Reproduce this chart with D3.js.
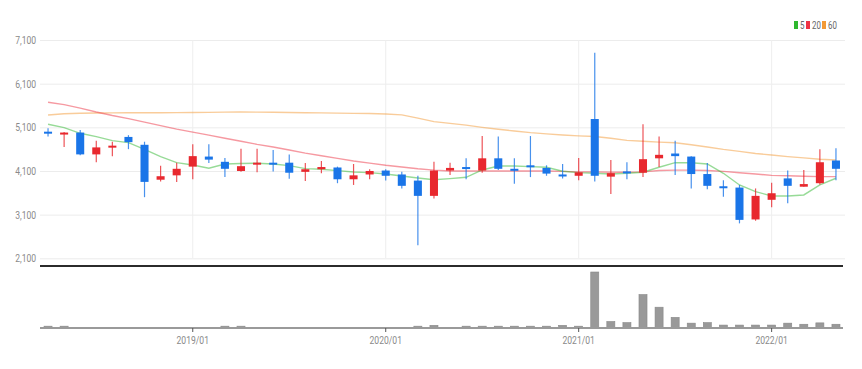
<!DOCTYPE html>
<html>
<head>
<meta charset="utf-8">
<script src="https://d3js.org/d3.v7.min.js"></script>
<style>
  body { margin: 0; background: #fff; }
  text { font-family: "Roboto", "Liberation Sans", sans-serif; }
</style>
</head>
<body>
<div id="chart"></div>
<script>
// Monthly candles, 2018/04 .. 2022/05
var months = ["2018/04","2018/05","2018/06","2018/07","2018/08","2018/09","2018/10","2018/11","2018/12",
  "2019/01","2019/02","2019/03","2019/04","2019/05","2019/06","2019/07","2019/08","2019/09","2019/10","2019/11","2019/12",
  "2020/01","2020/02","2020/03","2020/04","2020/05","2020/06","2020/07","2020/08","2020/09","2020/10","2020/11","2020/12",
  "2021/01","2021/02","2021/03","2021/04","2021/05","2021/06","2021/07","2021/08","2021/09","2021/10","2021/11","2021/12",
  "2022/01","2022/02","2022/03","2022/04","2022/05"];

var opens  = [5000,4950,4980,4480,4645,4880,4700,3900,4000,4200,4430,4310,4100,4250,4290,4290,4080,4140,4180,3910,4020,
  4110,4020,3880,3530,4110,4190,4110,4390,4150,4230,4170,4020,3990,5290,3970,4090,4060,4390,4500,4430,4030,3750,3720,2990,
  3440,3930,3740,3820,4340];
var closes = [4970,4980,4480,4640,4680,4760,3850,3980,4150,4440,4360,4150,4210,4290,4260,4060,4140,4190,3910,4000,4100,
  3990,3760,3530,4110,4170,4150,4390,4150,4120,4200,4040,3990,4070,3990,4050,4050,4370,4470,4440,4030,3760,3730,2980,3530,
  3590,3760,3800,4300,4150];
var highs  = [5080,4990,5040,4790,4770,4920,4770,4220,4290,4710,4710,4400,4610,4610,4580,4480,4280,4330,4200,4260,4140,
  4140,4080,3990,4310,4290,4390,4900,4890,4390,4900,4230,4260,4400,6810,4350,4300,5170,4890,4790,4440,4280,3890,3780,3700,
  3830,4110,4120,4600,4620];
var lows   = [4890,4650,4460,4300,4440,4600,3500,3860,3850,3910,4280,3960,4080,4070,4090,3920,3870,4050,3820,3780,3910,
  3880,3700,2400,3470,4010,3910,4060,4120,3810,3960,3990,3930,3890,3860,3570,3910,3960,4190,4010,3700,3680,3510,2900,2960,
  3270,3360,3740,3790,3890];

// trading volume (relative units)
var volumes = [1.5,1.5,0,0,0,0,0,0,0,0,0,1.5,1.5,0,0,0,0,0,0,0,0,
  0,0,1.5,3,0,1.5,1.5,1.5,1.5,1.5,1.5,3,1.5,100,10,8,59,36,17.5,7,8,3.5,3.5,3.5,
  3.5,7,5,7.5,5];

// moving averages as shown on the chart
var ma5  = [5169,5092,4963,4886,4794,4749,4597,4428,4290,4238,4162,4261,4270,4276,4261,4222,4154,4139,4108,4077,4062,
  4031,3986,3940,3900,3924,3956,4123,4215,4215,4200,4185,4093,4062,4047,4031,4047,4070,4185,4290,4290,4261,4047,3780,3627,
  3528,3528,3551,3780,3933];
var ma20 = [5673,5620,5540,5450,5370,5300,5220,5140,5060,4990,4920,4850,4780,4710,4650,4580,4510,4450,4390,4330,4280,
  4230,4190,4150,4120,4100,4100,4100,4100,4100,4100,4100,4090,4080,4080,4070,4070,4080,4110,4120,4120,4110,4090,4060,4030,
  4000,3990,3980,3970,3970];
var ma60 = [5383,5410,5421,5428,5432,5435,5435,5435,5437,5440,5443,5447,5450,5448,5445,5440,5435,5430,5425,5420,5415,
  5405,5385,5310,5230,5190,5150,5100,5055,5015,4978,4950,4925,4905,4890,4850,4800,4780,4760,4745,4700,4650,4595,4550,4500,
  4465,4430,4400,4370,4350];

var priceTicks = [2100,3100,4100,5100,6100,7100];
var maLabels = ["5","20","60"];
var maColors = ["#2fb82f","#ee3344","#f39a36"];

var upColor = "#e8282e";
var downColor = "#1a75e8";

var svgWidth = 862;
var svgHeight = 369;

// labels in the original are squeezed sideways
var squeeze = "scale(0.78,1)";

var svg = d3.select("#chart")
  .append("svg")
  .attr("width", svgWidth)
  .attr("height", svgHeight);

var left = 40, right = 845;

// Step 1: scales
// ==============================
var xScale = d3.scaleBand()
  .domain(months)
  .range([left, 844])
  .paddingInner(0.5)
  .paddingOuter(0.25);

var cx = function(i) { return xScale(months[i]) + xScale.bandwidth() / 2; };

var yScale = d3.scaleLinear()
  .domain([2100, 7100])
  .range([258.3, 40]);

var vScale = d3.scaleLinear()
  .domain([0, 100])
  .range([328, 273]);

// Step 2: price grid + labels
// ==============================
var yAxis = d3.axisLeft(yScale)
  .tickValues(priceTicks)
  .tickSize(-(right - left))
  .tickPadding(5)
  .tickFormat(d3.format(","));

var yG = svg.append("g")
  .attr("transform", `translate(${left}, 0)`)
  .call(yAxis);
yG.select(".domain").remove();
yG.selectAll("line").attr("stroke", "#ececec");
yG.selectAll("text")
  .attr("fill", "#8a8a8a")
  .attr("font-size", "11px")
  .attr("transform", squeeze);

// vertical grid at each January
var janMonths = months.filter(d => d.endsWith("/01"));
svg.append("g").selectAll("line")
  .data(janMonths)
  .enter()
  .append("line")
  .attr("x1", d => xScale(d) + xScale.bandwidth() / 2)
  .attr("x2", d => xScale(d) + xScale.bandwidth() / 2)
  .attr("y1", 40)
  .attr("y2", 258)
  .attr("stroke", "#eeeeee");

// Step 3: moving average lines
// ==============================
var line = d3.line()
  .x((d, i) => cx(i))
  .y(d => yScale(d));

[ma60, ma20, ma5].forEach(function(series, k) {
  svg.append("path")
    .datum(series)
    .attr("d", line)
    .attr("fill", "none")
    .attr("stroke", maColors[2 - k])
    .attr("stroke-opacity", 0.5)
    .attr("stroke-width", 1.4);
});

// Step 4: candles
// ==============================
var idx = d3.range(months.length);
var candles = svg.append("g").selectAll("g")
  .data(idx)
  .enter()
  .append("g");

candles.append("line")
  .attr("x1", i => cx(i))
  .attr("x2", i => cx(i))
  .attr("y1", i => yScale(highs[i]))
  .attr("y2", i => yScale(lows[i]))
  .attr("stroke", i => closes[i] >= opens[i] ? upColor : downColor)
  .attr("stroke-opacity", 0.8)
  .attr("stroke-width", 1.2);

candles.append("rect")
  .attr("x", i => xScale(months[i]))
  .attr("width", xScale.bandwidth())
  .attr("y", i => yScale(Math.max(opens[i], closes[i])))
  .attr("height", i => Math.max(2, Math.abs(yScale(opens[i]) - yScale(closes[i]))))
  .attr("fill", i => closes[i] >= opens[i] ? upColor : downColor);

// Step 5: separator between panels
// ==============================
svg.append("line")
  .attr("x1", left)
  .attr("x2", 843)
  .attr("y1", 266)
  .attr("y2", 266)
  .attr("stroke", "#2b2b2b")
  .attr("stroke-width", 2);

// Step 6: volume bars
// ==============================
svg.append("g").selectAll("rect")
  .data(idx.filter(i => volumes[i] > 0))
  .enter()
  .append("rect")
  .attr("x", i => xScale(months[i]))
  .attr("width", xScale.bandwidth())
  .attr("y", i => vScale(volumes[i]) - 1)
  .attr("height", i => 328 - vScale(volumes[i]) + 1)
  .attr("fill", "#999999")
  .attr("stroke", "#888888")
  .attr("stroke-width", 0.6);

// Step 7: x axis
// ==============================
var xAxis = d3.axisBottom(xScale)
  .tickValues(janMonths)
  .tickSize(4)
  .tickSizeOuter(0)
  .tickPadding(4);

var xG = svg.append("g")
  .attr("transform", "translate(0, 328)")
  .call(xAxis);
xG.select(".domain").attr("stroke", "#9a9a9a").attr("stroke-width", 2)
  .attr("d", `M${left},0H843`);
xG.selectAll(".tick line").attr("stroke", "#555");
xG.selectAll("text")
  .attr("fill", "#8a8a8a")
  .attr("font-size", "11px")
  .attr("transform", squeeze);

// Step 8: legend
// ==============================
var legendX = [794, 806, 822];
var legend = svg.append("g").selectAll("g")
  .data(maLabels)
  .enter()
  .append("g")
  .attr("transform", (d, i) => `translate(${legendX[i]}, 21)`);

legend.append("rect")
  .attr("width", 4)
  .attr("height", 8)
  .attr("fill", (d, i) => maColors[i]);

legend.append("text")
  .attr("transform", "translate(6,8) scale(0.75,1)")
  .attr("font-size", "10.5px")
  .attr("fill", "#666")
  .text(d => d);
</script>
</body>
</html>
